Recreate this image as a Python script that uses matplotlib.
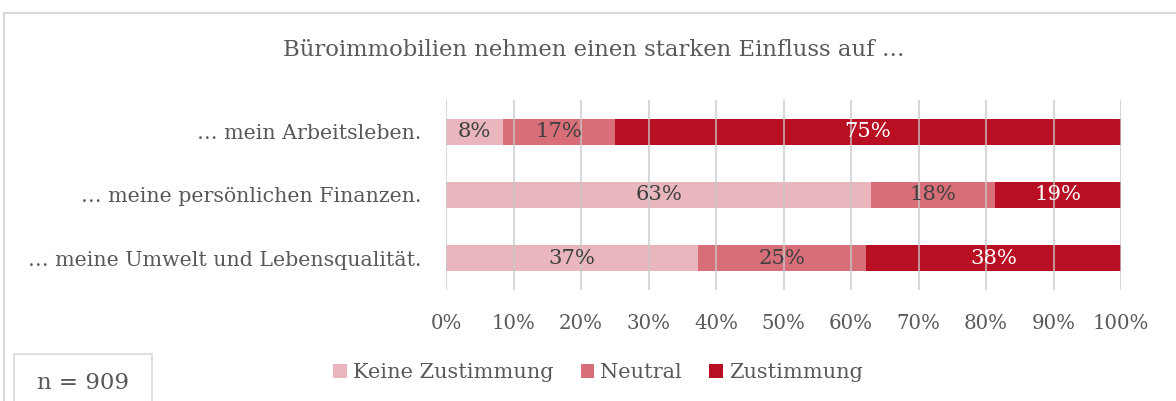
import matplotlib
matplotlib.use("Agg")
import matplotlib.pyplot as plt
from matplotlib.patches import Rectangle
import numpy as np

categories = ["… mein Arbeitsleben.", "… meine persönlichen Finanzen.", "… meine Umwelt und Lebensqualität."]
series_names = ["Keine Zustimmung", "Neutral", "Zustimmung"]
keine = [8.4, 63.0, 37.3]
neutral = [16.6, 18.4, 24.9]
zustimmung = [75.0, 18.6, 37.8]
tick_labels = ["0%", "10%", "20%", "30%", "40%", "50%", "60%", "70%", "80%", "90%", "100%"]
title = "Büroimmobilien nehmen einen starken Einfluss auf …"
note = "n = 909"

colors = ["#e8b6bc", "#d76e78", "#b80f22"]
text_colors = ["#404040", "#404040", "#ffffff"]
font = "DejaVu Serif"
gray = "#595959"

W, H = 1176, 401
fig = plt.figure(figsize=(W / 100, H / 100), dpi=100)
fig.patch.set_facecolor("white")

# outer frame
fig.add_artist(Rectangle((4 / W, -0.1), 1.2, 1 - 13 / H + 0.1, transform=fig.transFigure,
                         fill=False, edgecolor="#d9d9d9", linewidth=1.5, clip_on=False))

ax = fig.add_axes([446 / W, 1 - 290 / H, 675 / W, 190 / H])
y = np.arange(len(categories))[::-1]
left = np.zeros(len(categories))
for vals, name, c, tc in zip([keine, neutral, zustimmung], series_names, colors, text_colors):
    vals = np.array(vals)
    ax.barh(y, vals, left=left, height=0.41, color=c, label=name, zorder=2)
    for yi, l, v in zip(y, left, vals):
        ax.text(l + v / 2, yi, f"{round(v):d}%", ha="center", va="center",
                color=tc, fontsize=15.2, family=font, zorder=4)
    left += vals

ax.set_xlim(0, 100)
ax.set_ylim(-0.5, 2.5)
ax.set_xticks(np.arange(0, 101, 10))
ax.set_xticklabels(tick_labels, family=font, fontsize=14.2, color=gray)
ax.set_yticks(y)
ax.set_yticklabels(categories, family=font, fontsize=14.8, color=gray)
ax.tick_params(length=0)
ax.tick_params(axis="y", pad=18)
ax.tick_params(axis="x", pad=17)
for s in ax.spines.values():
    s.set_visible(False)
ax.grid(axis="x", color="#c8c8c8", linewidth=1.5, alpha=0.7, zorder=3)
ax.set_axisbelow(False)

fig.text(594 / W, 1 - 50 / H, title, ha="center", va="center", family=font,
         fontsize=16.4, color=gray)

leg = fig.legend(loc="center", bbox_to_anchor=(598 / W, 1 - 373 / H), ncol=3, frameon=False,
                 prop={"family": font, "size": 15}, handlelength=0.65, handleheight=0.65,
                 handletextpad=0.3, columnspacing=1.3, labelcolor=gray)

fig.add_artist(Rectangle((14 / W, -0.1), 138 / W, (H - 354) / H + 0.1, transform=fig.transFigure,
                         fill=False, edgecolor="#d9d9d9", linewidth=1.2, clip_on=False))
fig.text(83 / W, 1 - 383 / H, note, ha="center", va="center", family=font, fontsize=16.5, color=gray)

fig.savefig("out.png", dpi=100)
